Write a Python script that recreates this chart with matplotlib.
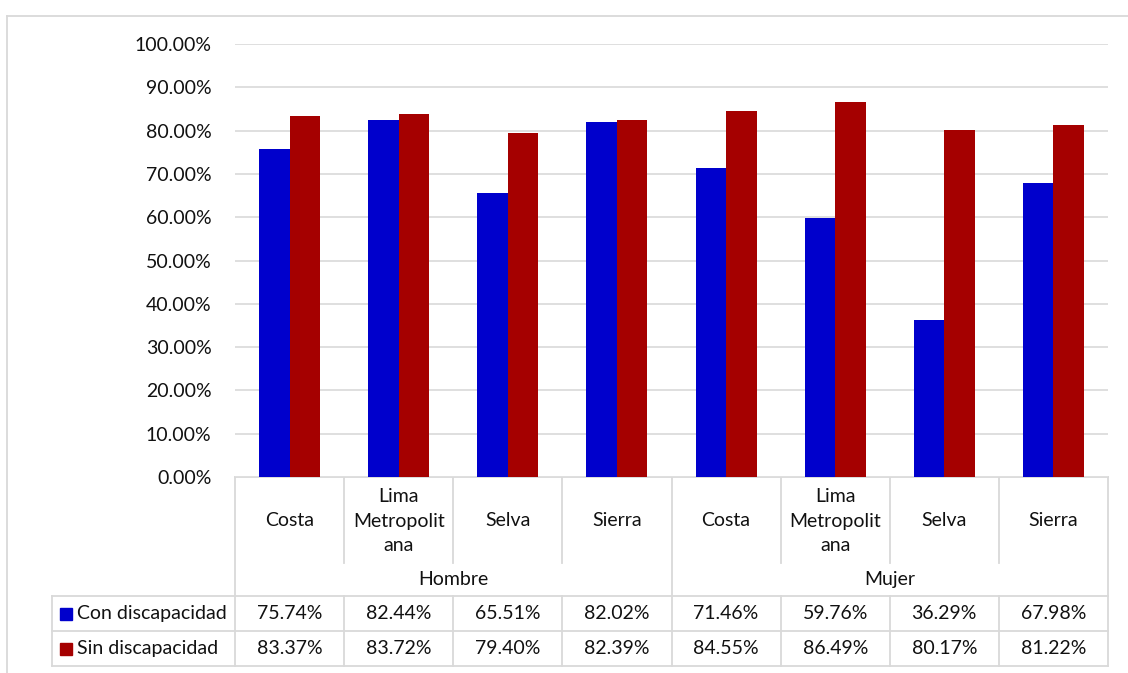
import matplotlib.pyplot as plt
from matplotlib.patches import Rectangle

# data
groups = ['Hombre', 'Mujer']
regions = ['Costa', 'Lima\nMetropolit\nana', 'Selva', 'Sierra']
series_names = ['Con discapacidad', 'Sin discapacidad']
con_disc = [75.74, 82.44, 65.51, 82.02, 71.46, 59.76, 36.29, 67.98]
sin_disc = [83.37, 83.72, 79.40, 82.39, 84.55, 86.49, 80.17, 81.22]
colors = ['#0000CC', '#A50000']

plt.rcParams['font.family'] = ['Lato', 'DejaVu Sans']
txt_color = '#111111'
grid_color = '#D9D9D9'
fs = 14

W, H = 1128, 673
fig = plt.figure(figsize=(W / 100, H / 100), dpi=100)

# plot area in pixels
px_left, px_right, px_top, px_zero = 235, 1108, 44, 477
ax = fig.add_axes([px_left / W, 1 - px_zero / H, (px_right - px_left) / W, (px_zero - px_top) / H])

n = len(con_disc)
bw = 0.28
xs = list(range(n))
ax.bar([x - bw / 2 for x in xs], con_disc, width=bw, color=colors[0], zorder=3)
ax.bar([x + bw / 2 for x in xs], sin_disc, width=bw, color=colors[1], zorder=3)

ax.set_xlim(-0.5, n - 0.5)
ax.set_ylim(0, 100)
ax.set_yticks(range(0, 101, 10))
ax.set_yticklabels([f'{v:.2f}%' for v in range(0, 101, 10)], fontsize=fs, color=txt_color)
ax.tick_params(axis='y', length=0, pad=17)
ax.set_xticks([])
ax.yaxis.grid(True, color=grid_color, lw=1.2, zorder=0)
for s in ax.spines.values():
    s.set_visible(False)

# overlay in pixel coords for the data table and frame
ov = fig.add_axes([0, 0, 1, 1], zorder=-1)
ov.set_xlim(0, W)
ov.set_ylim(H, 0)
ov.axis('off')

lc = dict(color=grid_color, lw=1.3)
# outer frame
ov.plot([7, W], [16, 16], **lc)
ov.plot([7, 7], [16, H], **lc)

colw = (px_right - px_left) / n
col_x = [px_left + i * colw for i in range(n + 1)]
y_hdr_bot = 563
y_grp_bot = 596
y_row1 = 631
y_row2 = 666
leg_left = 52

# horizontal lines
ov.plot([px_left, px_right], [px_zero, px_zero], **lc)
ov.plot([leg_left, px_right], [y_grp_bot, y_grp_bot], **lc)
ov.plot([leg_left, px_right], [y_row1, y_row1], **lc)
ov.plot([leg_left, px_right], [y_row2, y_row2], **lc)

# vertical lines
for i, x in enumerate(col_x):
    if i in (0, n // 2, n):
        ov.plot([x, x], [px_zero, y_row2], **lc)
    else:
        ov.plot([x, x], [px_zero, y_hdr_bot], **lc)
        ov.plot([x, x], [y_grp_bot, y_row2], **lc)
ov.plot([leg_left, leg_left], [y_grp_bot, y_row2], **lc)

# header text
for i in range(n):
    cx = (col_x[i] + col_x[i + 1]) / 2
    ov.text(cx, (px_zero + y_hdr_bot) / 2 + 1, regions[i % len(regions)], ha='center', va='center',
            fontsize=fs, color=txt_color, linespacing=1.55)
for g, name in enumerate(groups):
    cx = (col_x[g * 4] + col_x[g * 4 + 4]) / 2
    ov.text(cx, (y_hdr_bot + y_grp_bot) / 2, name, ha='center', va='center', fontsize=fs, color=txt_color)

# data rows
rows = [(con_disc, y_grp_bot, y_row1), (sin_disc, y_row1, y_row2)]
for k, (vals, y0, y1) in enumerate(rows):
    cy = (y0 + y1) / 2
    ov.add_patch(Rectangle((60, cy - 6), 12, 12, color=colors[k]))
    ov.text(77, cy, series_names[k], ha='left', va='center', fontsize=fs, color=txt_color)
    for i, v in enumerate(vals):
        cx = (col_x[i] + col_x[i + 1]) / 2
        ov.text(cx, cy, f'{v:.2f}%', ha='center', va='center', fontsize=fs, color=txt_color)

fig.savefig('out.png', dpi=100)
